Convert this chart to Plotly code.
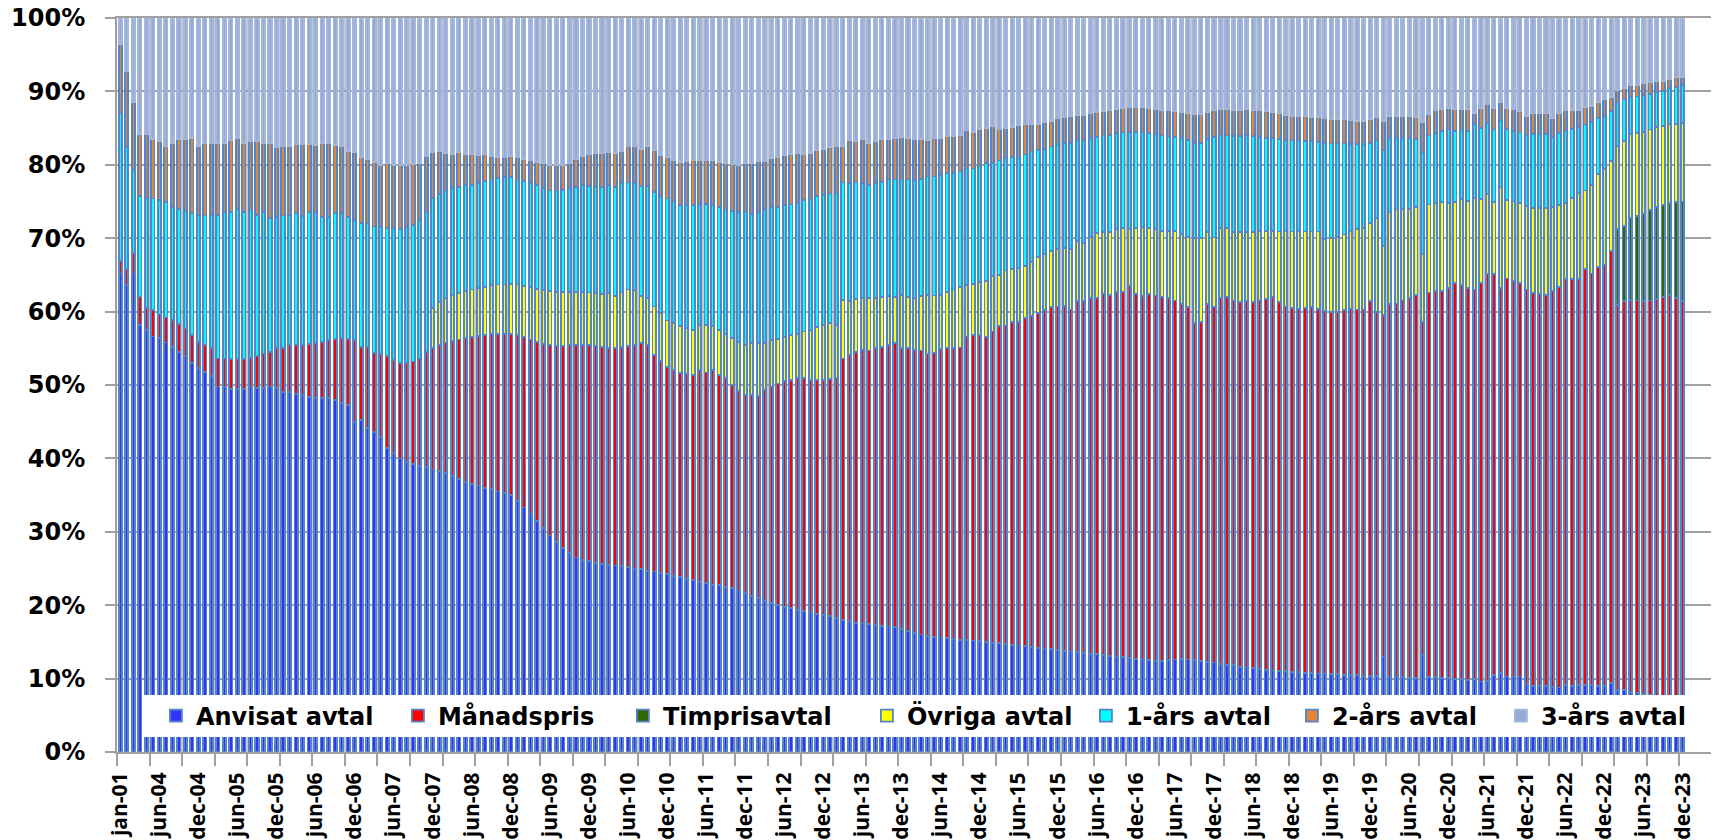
import numpy as np
import plotly.graph_objects as go

# ---------------- categories ----------------
months_sv = ["jan", "feb", "mar", "apr", "maj", "jun", "jul", "aug", "sep", "okt", "nov", "dec"]
first_categories = ["jan-01", "jan-02", "jan-03", "mar-04", "apr-04", "maj-04"]
categories = first_categories + [
    f"{months_sv[(5 + k) % 12]}-{(4 + (5 + k) // 12):02d}" for k in range(235)
]
tick_labels = categories[::6]

# ---------------- cumulative levels (% , top of each segment) -------------
anvisat_top = [
    65.2, 63.6, 65.2, 58.2, 57.5, 56.6, 56.4, 55.8, 55.2, 54.5,
    53.9, 53.0, 52.3, 51.8, 51.2, 49.8, 49.8, 49.5, 49.5, 49.5,
    49.8, 49.6, 49.6, 49.8, 49.6, 49.1, 49.0, 48.8, 48.6, 48.4,
    48.2, 48.2, 48.2, 48.0, 47.6, 47.3, 45.0, 45.2, 44.1, 43.6,
    42.9, 41.4, 40.7, 40.0, 39.5, 39.2, 39.0, 38.8, 38.5, 38.3,
    38.0, 37.6, 37.2, 36.8, 36.5, 36.3, 36.0, 35.8, 35.5, 35.3,
    35.0, 34.2, 33.3, 32.5, 31.5, 30.5, 29.5, 28.6, 27.8, 27.1,
    26.5, 26.2, 26.0, 25.8, 25.6, 25.5, 25.4, 25.3, 25.2, 25.0,
    24.9, 24.7, 24.6, 24.4, 24.2, 24.0, 23.8, 23.6, 23.4, 23.2,
    23.0, 22.8, 22.7, 22.5, 22.3, 22.0, 21.7, 21.3, 21.0, 20.6,
    20.3, 20.0, 19.8, 19.6, 19.4, 19.2, 19.0, 18.8, 18.7, 18.5,
    18.3, 18.0, 17.8, 17.6, 17.5, 17.4, 17.3, 17.2, 17.1, 17.0,
    16.8, 16.5, 16.2, 16.0, 15.8, 15.7, 15.6, 15.5, 15.4, 15.3,
    15.3, 15.2, 15.1, 15.0, 14.9, 14.8, 14.7, 14.6, 14.5, 14.4,
    14.3, 14.2, 14.1, 14.0, 13.9, 13.8, 13.7, 13.6, 13.5, 13.4,
    13.3, 13.2, 13.1, 13.0, 12.9, 12.8, 12.7, 12.6, 12.5, 12.4,
    12.4, 12.5, 12.6, 12.7, 12.6, 12.5, 12.4, 12.3, 12.2, 12.0,
    11.9, 11.8, 11.6, 11.5, 11.4, 11.3, 11.2, 11.1, 11.0, 11.0,
    10.9, 10.9, 10.8, 10.8, 10.7, 10.7, 10.6, 10.6, 10.5, 10.5,
    10.5, 10.4, 10.4, 10.4, 13.0, 10.3, 10.3, 10.2, 10.1, 10.1,
    13.2, 10.2, 10.2, 10.1, 10.1, 10.0, 9.9, 9.8, 10.0, 9.6,
    9.7, 10.5, 10.8, 10.3, 10.3, 10.3, 9.2, 9.0, 9.0, 9.0,
    8.9, 8.8, 9.1, 9.0, 9.1, 9.1, 9.1, 9.0, 9.0, 9.4,
    8.5, 8.4, 8.2, 8.0, 7.9, 7.8, 7.7, 7.6, 7.5, 7.5, 7.4,
]

manadspris_top = [
    66.9, 65.8, 68.0, 62.0, 60.5, 60.2, 59.6, 59.2, 58.9, 58.3,
    57.7, 56.8, 55.9, 55.4, 55.0, 53.6, 53.6, 53.5, 53.5, 53.5,
    53.7, 54.0, 54.3, 54.5, 55.0, 55.0, 55.4, 55.4, 55.5, 55.6,
    55.7, 55.9, 56.1, 56.3, 56.4, 56.3, 56.1, 55.2, 55.2, 54.4,
    54.2, 53.9, 53.4, 53.0, 53.0, 53.2, 53.6, 54.5, 55.0, 55.5,
    55.8, 56.0, 56.2, 56.4, 56.5, 56.7, 56.8, 57.0, 57.0, 57.0,
    57.0, 56.8, 56.5, 56.2, 55.9, 55.6, 55.4, 55.3, 55.3, 55.4,
    55.5, 55.5, 55.4, 55.3, 55.2, 55.0, 55.0, 55.2, 55.3, 55.4,
    55.7, 55.4, 54.1, 53.3, 52.5, 52.0, 51.6, 51.5, 51.4, 52.0,
    51.7, 52.0, 51.4, 50.9, 50.0, 49.2, 48.6, 48.6, 48.5, 49.3,
    49.8, 50.2, 50.5, 50.7, 50.9, 50.9, 50.7, 50.7, 50.7, 50.8,
    50.9, 53.6, 54.1, 54.5, 54.8, 54.7, 55.0, 55.2, 55.4, 55.7,
    55.0, 55.0, 54.8, 54.7, 54.2, 54.4, 54.9, 55.0, 55.0, 55.1,
    56.6, 56.8, 56.8, 56.5, 57.3, 58.0, 58.1, 58.6, 58.6, 59.1,
    59.4, 59.8, 60.2, 60.6, 60.7, 60.8, 60.3, 61.4, 61.4, 61.8,
    61.8, 62.4, 62.3, 62.7, 62.7, 63.5, 62.4, 62.1, 62.4, 62.2,
    62.0, 61.8, 61.5, 61.0, 60.6, 58.5, 58.6, 61.0, 60.6, 61.9,
    62.0, 61.5, 61.3, 61.4, 61.3, 61.5, 61.7, 62.0, 61.3, 60.7,
    60.5, 60.4, 60.5, 60.6, 60.4, 60.1, 60.0, 60.0, 60.2, 60.4,
    60.3, 60.3, 61.4, 60.0, 59.5, 61.0, 61.1, 61.5, 61.9, 62.3,
    58.6, 62.6, 62.8, 62.8, 63.2, 63.9, 63.6, 63.2, 63.0, 63.9,
    65.1, 65.1, 63.2, 64.5, 64.2, 63.9, 63.0, 62.5, 62.4, 62.3,
    62.8, 63.4, 64.4, 64.4, 64.4, 65.8, 65.2, 66.1, 66.4, 68.3,
    60.9, 61.4, 61.6, 61.5, 61.4, 61.5, 61.7, 62.0, 62.3, 61.8, 61.4,
]

# Timprisavtal only exists from feb-23 (last 11 categories)
timpris_top_2023 = [71.2, 71.7, 72.8, 73.0, 73.3, 73.8, 74.3, 74.5, 74.8, 74.9, 75.0]

# Övriga avtal: levels from nov-07 (category index 47); first month has no Övriga share
ovriga_top_from_nov07 = [
    54.5, 60.5, 61.3,
    61.8, 62.2, 62.5, 62.8, 63.0, 63.2, 63.4, 63.6, 63.7, 63.7,
    63.8, 63.7, 63.5, 63.3, 63.1, 62.9, 62.8, 62.7, 62.7, 62.7,
    62.7, 62.7, 62.6, 62.5, 62.4, 62.5, 62.1, 62.6, 63.0, 62.9,
    62.1, 61.8, 60.7, 59.8, 58.8, 58.4, 58.0, 57.8, 57.5, 58.2,
    58.2, 58.0, 57.5, 57.0, 56.4, 55.9, 55.4, 55.7, 55.7, 55.7,
    56.1, 56.3, 56.5, 56.8, 57.0, 57.3, 57.5, 57.9, 58.2, 58.4,
    58.2, 61.6, 61.4, 61.7, 61.8, 61.8, 61.9, 62.0, 62.1, 62.0,
    62.3, 62.0, 61.8, 62.1, 62.3, 62.2, 62.3, 62.7, 63.0, 63.4,
    63.6, 63.8, 64.0, 64.2, 64.8, 65.0, 65.6, 65.8, 65.9, 66.2,
    66.8, 67.4, 67.8, 68.3, 68.5, 68.7, 68.5, 69.6, 69.4, 70.2,
    70.7, 70.8, 70.8, 71.3, 71.4, 71.2, 71.4, 71.5, 71.4, 71.2,
    71.0, 71.0, 71.0, 70.6, 70.2, 70.0, 70.0, 70.8, 70.1, 71.4,
    71.4, 70.8, 70.8, 70.8, 70.8, 71.0, 71.0, 71.0, 70.9, 70.9,
    70.9, 70.9, 70.9, 70.9, 70.9, 69.9, 70.0, 70.2, 70.5, 70.9,
    71.2, 71.4, 72.1, 72.8, 68.9, 73.5, 73.9, 74.0, 74.0, 74.3,
    67.8, 74.6, 74.8, 74.9, 74.8, 74.9, 75.3, 75.1, 75.5, 75.3,
    76.0, 74.9, 76.9, 75.2, 75.0, 74.8, 74.4, 74.1, 74.1, 74.1,
    74.3, 74.5, 74.8, 75.5, 76.2, 76.5, 77.2, 78.7, 79.4, 80.5,
    82.6, 83.2, 84.2, 84.3, 84.5, 84.8, 85.1, 85.3, 85.6, 85.6, 85.7,
]

ars1_top = [
    87.0, 82.4, 79.3, 75.8, 75.5, 75.4, 75.2, 74.9, 74.3, 74.0,
    73.7, 73.4, 73.2, 73.1, 73.2, 73.2, 73.5, 73.6, 74.0, 73.6,
    73.9, 73.2, 73.6, 72.8, 72.9, 73.1, 73.2, 73.4, 73.0, 73.6,
    73.5, 72.9, 72.9, 73.4, 73.4, 72.9, 72.5, 72.1, 72.0, 71.6,
    71.5, 71.4, 71.4, 71.3, 71.5, 71.8, 72.5, 73.5, 75.5, 76.0,
    76.5, 76.8, 77.0, 77.2, 77.3, 77.5, 77.8, 78.0, 78.2, 78.3,
    78.3, 78.0, 77.8, 77.5, 77.2, 76.8, 76.5, 76.5, 76.6, 76.8,
    77.0, 77.2, 77.1, 77.0, 77.0, 77.2, 77.0, 77.5, 77.6, 77.5,
    77.1, 77.1, 76.3, 75.7, 75.4, 75.0, 74.5, 74.5, 74.5, 74.7,
    74.7, 74.5, 74.3, 73.9, 73.7, 73.6, 73.7, 73.3, 73.5, 74.0,
    74.2, 74.3, 74.5, 74.6, 74.8, 75.2, 75.4, 75.7, 75.9, 76.1,
    76.1, 77.6, 77.5, 77.6, 77.5, 77.3, 77.5, 77.7, 78.0, 78.0,
    78.0, 78.0, 77.9, 78.1, 78.5, 78.4, 78.6, 78.9, 78.9, 79.1,
    79.5, 79.5, 79.8, 80.3, 80.3, 80.6, 80.9, 81.1, 81.0, 81.4,
    81.8, 82.0, 82.2, 82.5, 82.8, 83.0, 83.0, 83.3, 83.4, 83.6,
    83.8, 84.0, 84.1, 84.3, 84.4, 84.5, 84.5, 84.4, 84.3, 84.2,
    84.0, 83.9, 83.8, 83.6, 83.4, 83.0, 83.0, 83.5, 83.8, 84.0,
    84.0, 83.9, 83.9, 84.0, 83.9, 83.8, 83.7, 83.6, 83.5, 83.4,
    83.3, 83.3, 83.2, 83.2, 83.1, 83.0, 82.9, 82.9, 82.9, 82.8,
    82.8, 82.8, 83.0, 83.3, 82.0, 83.6, 83.7, 83.7, 83.7, 83.5,
    81.7, 84.0, 84.3, 84.6, 84.8, 84.6, 84.8, 84.6, 85.6, 85.0,
    85.7, 84.8, 86.1, 84.9, 84.6, 84.4, 84.0, 84.2, 84.2, 84.2,
    83.8, 84.3, 84.6, 84.9, 85.2, 85.5, 85.8, 86.4, 86.7, 87.3,
    88.5, 88.9, 89.2, 89.3, 89.5, 89.7, 89.9, 90.1, 90.4, 90.6, 90.9,
]

ars2_top = [
    96.4, 92.8, 88.6, 84.2, 84.2, 83.5, 83.2, 82.5, 83.0, 83.5,
    83.5, 83.6, 82.6, 83.0, 82.9, 83.0, 83.0, 83.3, 83.6, 83.0,
    83.2, 83.2, 83.0, 83.0, 82.4, 82.5, 82.6, 82.8, 82.8, 82.8,
    82.7, 83.0, 83.0, 82.7, 82.5, 81.9, 81.7, 81.1, 80.8, 80.4,
    80.0, 80.2, 80.0, 80.0, 80.0, 80.1, 80.2, 81.2, 81.7, 81.8,
    81.6, 81.5, 81.7, 81.5, 81.4, 81.3, 81.5, 81.2, 81.0, 81.0,
    81.2, 81.0, 80.8, 80.6, 80.4, 80.2, 80.0, 80.0, 80.0, 80.3,
    80.8, 81.2, 81.4, 81.6, 81.6, 81.7, 81.6, 81.9, 82.5, 82.5,
    82.1, 82.5, 82.0, 81.3, 81.0, 80.7, 80.4, 80.5, 80.6, 80.7,
    80.7, 80.6, 80.4, 80.2, 80.1, 80.0, 80.3, 80.2, 80.5, 80.5,
    80.9, 81.1, 81.3, 81.5, 81.6, 81.5, 81.6, 82.0, 82.2, 82.4,
    82.6, 82.6, 83.3, 83.2, 83.5, 83.0, 83.2, 83.5, 83.5, 83.6,
    83.8, 83.7, 83.5, 83.5, 83.3, 83.6, 83.6, 83.9, 83.9, 84.1,
    84.7, 84.5, 84.9, 85.0, 85.3, 84.8, 85.0, 85.2, 85.4, 85.5,
    85.6, 85.6, 85.8, 86.0, 86.3, 86.5, 86.6, 86.8, 86.8, 87.0,
    87.2, 87.3, 87.5, 87.6, 87.7, 87.8, 87.8, 87.8, 87.7, 87.6,
    87.5, 87.4, 87.3, 87.2, 87.0, 86.9, 86.9, 87.2, 87.5, 87.6,
    87.6, 87.5, 87.5, 87.6, 87.5, 87.4, 87.3, 87.2, 87.0, 86.8,
    86.7, 86.7, 86.6, 86.5, 86.5, 86.3, 86.2, 86.2, 86.2, 86.1,
    86.0, 86.0, 86.2, 86.5, 85.9, 86.6, 86.7, 86.7, 86.7, 86.5,
    85.8, 86.9, 87.4, 87.6, 87.7, 87.6, 87.6, 87.6, 87.1, 87.7,
    88.3, 87.7, 88.6, 87.7, 87.6, 87.3, 86.7, 87.0, 87.0, 87.0,
    86.4, 87.0, 87.4, 87.5, 87.5, 87.9, 88.0, 88.6, 88.9, 89.2,
    90.2, 90.5, 90.8, 90.8, 91.1, 91.3, 91.4, 91.4, 91.7, 91.9, 92.0,
]

# ---------------- derive each segment's share ----------------
B = np.array(anvisat_top)
R = np.array(manadspris_top)
G = np.concatenate([R[:230], np.array(timpris_top_2023)])
Y = np.concatenate([G[:47], np.array(ovriga_top_from_nov07)])
C = np.array(ars1_top)
O = np.array(ars2_top)


def clean(a):
    a = np.round(a, 2)
    return [None if v <= 0 else float(v) for v in a]


# name, values, fill, outline, legend entry width (px)
series = [
    ("Anvisat avtal", clean(B), "#3333FF", "#5585C5", 197),
    ("Månadspris", clean(R - B), "#FF0000", "#5585C5", 180),
    ("Timprisavtal", clean(G - R), "#336600", "#5585C5", 199),
    ("Övriga avtal", clean(Y - G), "#FFFF00", "#5585C5", 174),
    ("1-års avtal", clean(C - Y), "#00FFFF", "#5585C5", 161),
    ("2-års avtal", clean(O - C), "#E0853A", "#5585C5", 164),
    ("3-års avtal", clean(100 - O), "#97AAD6", "#A3B7DE", 160),
]

x_idx = list(range(len(categories)))

fig = go.Figure()
for name, vals, fill, edge, lw in series:
    fig.add_trace(go.Bar(
        x=x_idx, y=vals, name=name, width=0.5,
        marker=dict(color=fill, line=dict(color=edge, width=1.8)),
        legendwidth=lw,
        customdata=categories,
        hovertemplate="%{customdata}: %{y:.1f}%<extra>" + name + "</extra>",
    ))

grid_major = "#A0A0A0"
grid_minor = "#C8C8C8"

fig.update_layout(
    width=1719, height=840,
    margin=dict(l=109, r=15, t=10, b=96, autoexpand=False),
    barmode="stack",
    plot_bgcolor="white", paper_bgcolor="white",
    font=dict(family="Open Sans", color="black"),
    showlegend=True,
    legend=dict(
        orientation="h", x=0.0244, y=0.049, xanchor="left", yanchor="middle",
        bgcolor="rgba(255,255,255,0)", traceorder="normal",
        font=dict(family="DejaVu Sans", size=24, weight="bold", color="black"),
    ),
    shapes=[dict(
        type="rect", xref="paper", yref="paper",
        x0=0.0157, x1=0.9906, y0=0.0204, y1=0.0777,
        fillcolor="white", line=dict(width=0), layer="above",
    )],
)

fig.update_xaxes(
    range=[-0.5, 244.5], automargin=False,
    tickmode="array", tickvals=list(range(0, 241, 6)), ticktext=tick_labels,
    tickangle=-90, ticks="", showgrid=False,
    showline=True, linecolor=grid_major, linewidth=2, mirror=True,
    zeroline=False,
    tickfont=dict(family="Open Sans", size=21, weight="bold", color="black"),
    ticklabelstandoff=10,
    ticklabeloverflow="allow",
    minor=dict(
        tickmode="array", tickvals=[-0.5 + 5 * k for k in range(50)],
        ticks="outside", ticklen=12, tickwidth=2, tickcolor=grid_major,
        showgrid=True, gridcolor=grid_minor, gridwidth=2,
    ),
)

fig.update_yaxes(
    range=[0, 100], automargin=False,
    tickmode="array", tickvals=list(range(0, 101, 10)),
    ticktext=[f"{v}%" for v in range(0, 101, 10)],
    showgrid=True, gridcolor=grid_major, gridwidth=2,
    ticks="outside", ticklen=10, tickwidth=2, tickcolor=grid_major,
    showline=True, linecolor=grid_major, linewidth=2, mirror=True,
    zeroline=False,
    tickfont=dict(family="DejaVu Sans", size=24, weight="bold", color="black"),
    ticklabelstandoff=15,
    ticklabeloverflow="allow",
)

fig.write_html("out.html")
